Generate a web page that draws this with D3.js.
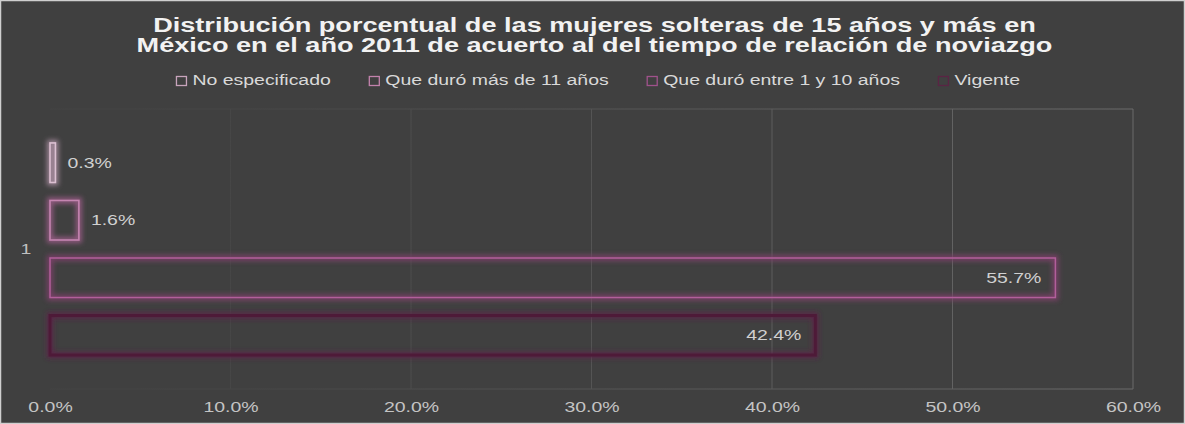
<!DOCTYPE html>
<html><head><meta charset="utf-8">
<script src="https://cdn.jsdelivr.net/npm/d3@7"></script>
<style>html,body{margin:0;padding:0;background:#404040;overflow:hidden}</style>
</head><body>
<script>
const titleLines = ["Distribución porcentual de las mujeres solteras de 15 años y más en",
                    "México en el año 2011 de acuerto al del tiempo de relación de noviazgo"];
const categories = ["1"];
const seriesNames = ["No especificado","Que duró más de 11 años","Que duró entre 1 y 10 años","Vigente"];
const seriesValues = [0.3, 1.6, 55.7, 42.4];
const xTicks = [0,10,20,30,40,50,60];
const strokeColors = ["#dcc0d2","#c585b1","#b25f9b","#4e1a38"];
const glowColors = ["#a58a9d","#9a5c86","#7e3f6a","#5e2448"];
const legendColors = ["#c8a4bc","#c282ac","#a0528c","#5a2444"];
const strokeWidths = [1.6,1.6,1.5,3];

const W=1185,H=424, SX=1.39;
const M={left:50,right:52,top:109,bottom:35};
const svg=d3.select("body").append("svg").attr("width",W).attr("height",H);
const defs=svg.append("defs");
defs.append("filter").attr("id","blur").attr("filterUnits","userSpaceOnUse")
  .attr("x",0).attr("y",0).attr("width",W).attr("height",H)
  .append("feGaussianBlur").attr("stdDeviation",2.6);
const lg=defs.append("linearGradient").attr("id","gridg").attr("gradientUnits","userSpaceOnUse")
  .attr("x1",M.left).attr("x2",W-M.right).attr("y1",0).attr("y2",0);
lg.append("stop").attr("offset","0").attr("stop-color","#434343");
lg.append("stop").attr("offset","0.2").attr("stop-color","#474747");
lg.append("stop").attr("offset","1").attr("stop-color","#6a6a6a");

svg.append("rect").attr("x",0.5).attr("y",0.5).attr("width",W-1).attr("height",H-1)
  .attr("fill","#404040").attr("stroke","#cfcfcf").attr("stroke-width",1.5);

function stext(g,x,y,str,size,anchor,fill,weight){
  return g.append("text").attr("transform",`translate(${x},${y}) scale(${SX},1)`)
    .attr("text-anchor",anchor).attr("font-family","'Liberation Sans',Arial,sans-serif")
    .attr("font-size",size).attr("font-weight",weight||"normal").attr("fill",fill).text(str);
}

const x=d3.scaleLinear().domain([0,60]).range([M.left,W-M.right]);
const y0=d3.scaleBand().domain(categories).range([M.top,H-M.bottom]);
const y1=d3.scaleBand().domain(seriesNames).range([y0(categories[0]),y0(categories[0])+y0.bandwidth()])
  .paddingInner(0.313).paddingOuter(0.59);

// grid + plot border
const grid=svg.append("g");
grid.selectAll("line.g").data(xTicks.slice(1)).join("line")
  .attr("x1",d=>x(d)).attr("x2",d=>x(d)).attr("y1",M.top).attr("y2",H-M.bottom)
  .attr("stroke","url(#gridg)").attr("stroke-width",1);
grid.append("line").attr("x1",x(0)).attr("x2",x(60)).attr("y1",M.top).attr("y2",M.top)
  .attr("stroke","url(#gridg)");
grid.append("line").attr("x1",x(0)).attr("x2",x(60)).attr("y1",H-M.bottom).attr("y2",H-M.bottom)
  .attr("stroke","url(#gridg)");

// x axis labels via d3 axis
const ax=svg.append("g").attr("transform",`translate(0,${H-M.bottom})`)
  .call(d3.axisBottom(x).tickValues(xTicks).tickSize(0).tickFormat(d=>d3.format(".1f")(d)+"%"));
ax.select(".domain").remove();
ax.selectAll(".tick text").remove();
ax.selectAll(".tick").each(function(d){
  stext(d3.select(this),0,23,d3.format(".1f")(d)+"%",14,"middle","#c4c4c4");
});

// category label
stext(svg,26,y0(categories[0])+y0.bandwidth()/2+5,categories[0],14,"middle","#bfbfbf");

// bars
const data=seriesNames.map((n,i)=>({n,v:seriesValues[i],i}));
const bars=svg.append("g");
bars.selectAll("rect.glow").data(data).join("rect")
  .attr("x",x(0)).attr("y",d=>y1(d.n)).attr("width",d=>x(d.v)-x(0)).attr("height",y1.bandwidth())
  .attr("fill","none").attr("stroke",d=>glowColors[d.i]).attr("stroke-width",6).attr("opacity",0.9)
  .attr("filter","url(#blur)");
bars.selectAll("rect.bar").data(data).join("rect")
  .attr("x",x(0)).attr("y",d=>y1(d.n)).attr("width",d=>x(d.v)-x(0)).attr("height",y1.bandwidth())
  .attr("fill","none").attr("stroke",d=>strokeColors[d.i]).attr("stroke-width",d=>strokeWidths[d.i]);

// labels
data.forEach(d=>{
  const cy=y1(d.n)+y1.bandwidth()/2+5;
  const lab=d3.format(".1f")(d.v)+"%";
  if(d.v<5) stext(svg,x(d.v)+12,cy,lab,14,"start","#d0d0d0");
  else stext(svg,x(d.v)-14,cy,lab,14,"end","#d0d0d0");
});

// title
titleLines.forEach((t,i)=>stext(svg,594.5,32+i*20,t,19.5,"middle","#f2f2f2","bold"));

// legend
const leg=svg.append("g");
const items=seriesNames.map((n,i)=>{
  const g=leg.append("g");
  g.append("rect").attr("x",0.5).attr("y",-8.5).attr("width",10).attr("height",9)
    .attr("fill","none").attr("stroke",legendColors[i]).attr("stroke-width",1.3);
  const t=stext(g,16.5,0,n,14,"start","#d9d9d9");
  const w=16.5+t.node().getComputedTextLength()*SX;
  return {g,w};
});
const gap=38;
const total=d3.sum(items,d=>d.w)+gap*(items.length-1);
let cx=598-total/2;
items.forEach(it=>{it.g.attr("transform",`translate(${cx},85)`); cx+=it.w+gap;});
</script>
</body></html>
